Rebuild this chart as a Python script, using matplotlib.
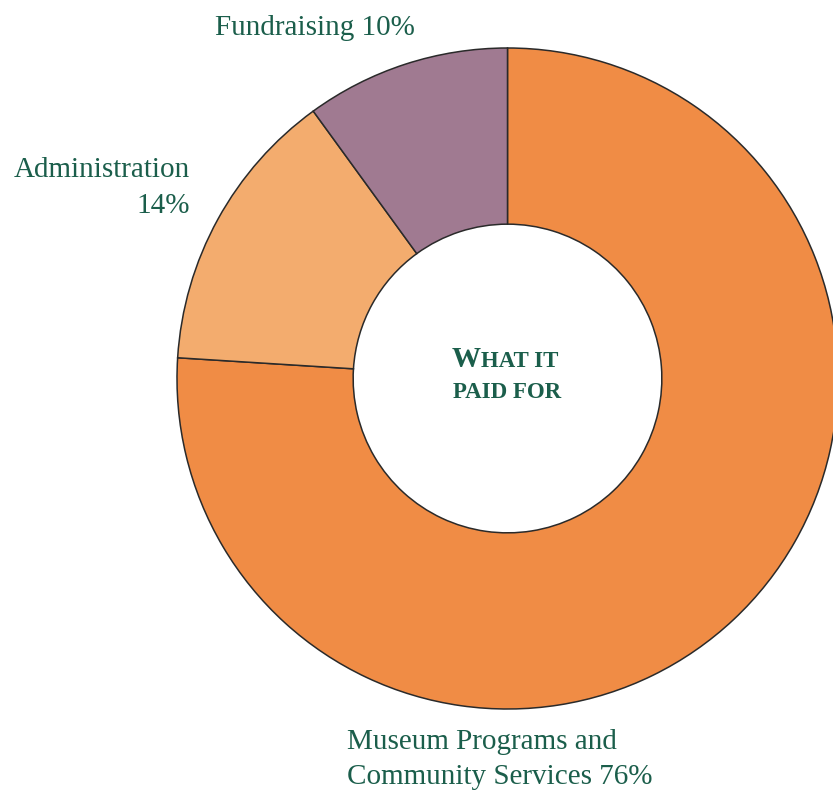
import matplotlib.pyplot as plt

# data
labels = ["Museum Programs and\nCommunity Services 76%", "Administration\n14%", "Fundraising 10%"]
shares = [76, 14, 10]
colors = ["#F08C45", "#F3AC6E", "#A07A91"]
text_green = "#1B5E4B"

plt.rcParams['font.family'] = ['Liberation Serif', 'DejaVu Serif']

W, H = 833, 791
fig = plt.figure(figsize=(W / 100, H / 100), dpi=100)
ax = fig.add_axes([0, 0, 1, 1])

cx, cy, r = 507.5, H - 378.5, 330.5
ax.pie(shares, colors=colors, startangle=90, counterclock=False,
       center=(cx, cy), radius=r, frame=True,
       wedgeprops=dict(width=r * 0.533, edgecolor='#2a2a2a', linewidth=1.1))
ax.set_xlim(0, W)
ax.set_ylim(0, H)
ax.set_aspect('equal')
ax.axis('off')

fs = 21
# slice labels, one text per line
ax.text(215, H - 35, labels[2], ha='left', va='baseline', fontsize=fs, color=text_green)
for i, line in enumerate(labels[1].split("\n")):
    ax.text(190, H - 177 - 36 * i, line, ha='right', va='baseline', fontsize=fs,
            color=text_green)
for i, line in enumerate(labels[0].split("\n")):
    ax.text(347, H - 749 - 35 * i, line, ha='left', va='baseline', fontsize=fs,
            color=text_green)

# center title in small caps
w1 = ax.text(452, H - 367, "W", ha='left', va='baseline', fontsize=21,
             fontweight='bold', color=text_green)
fig.canvas.draw()
bb = w1.get_window_extent().transformed(ax.transData.inverted())
ax.text(bb.x1, H - 367, "HAT IT", ha='left', va='baseline', fontsize=16.5,
        fontweight='bold', color=text_green)
ax.text(507, H - 398, "PAID FOR", ha='center', va='baseline', fontsize=16.5,
        fontweight='bold', color=text_green)

fig.savefig("out.png", dpi=100)
